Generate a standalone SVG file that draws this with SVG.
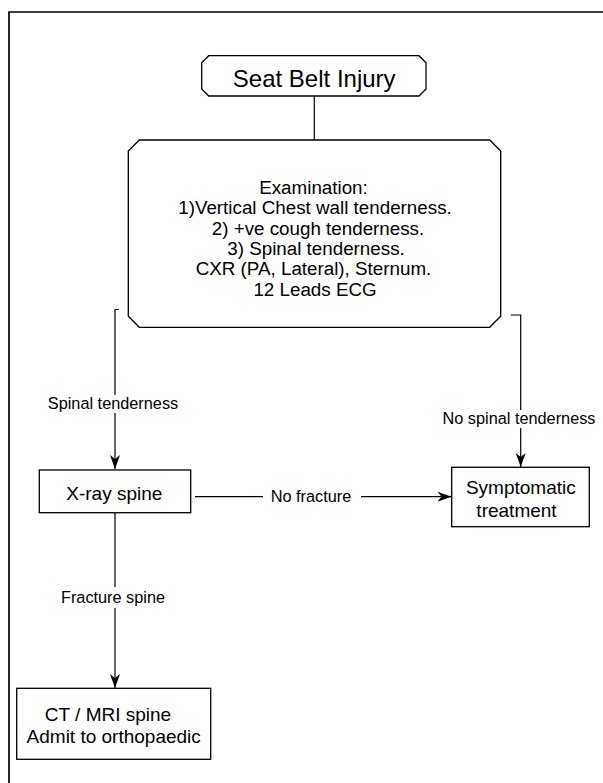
<svg xmlns="http://www.w3.org/2000/svg" width="603" height="783" viewBox="0 0 603 783">
<defs>
<style>
.box{fill:#fff;stroke:#000;stroke-width:1.3}
.ln{fill:none;stroke:#000;stroke-width:1.2}
.t{font-family:"Liberation Sans",Arial,Helvetica,sans-serif;fill:#000;text-anchor:middle}
.title{font-size:24px}
.ex{font-size:18.8px}
.bx{font-size:19px}
.lb{font-size:16.3px}
</style>
<marker id="arr" viewBox="0 0 14 10" refX="14" refY="5" markerWidth="14" markerHeight="10" markerUnits="userSpaceOnUse" orient="auto">
<path d="M0,0 L14,5 L0,10 L4,5 Z" fill="#000"/>
</marker>
</defs>
<rect width="603" height="783" fill="#fff"/>
<path d="M9,783 V12 H603" fill="none" stroke="#000" stroke-width="1.7"/>
<g id="connectors">
<path class="ln" d="M314.3,96 V140"/>
<path class="ln" d="M119,309.5 H115 V395"/>
<path class="ln" d="M115,413 V469" marker-end="url(#arr)"/>
<path class="ln" d="M510.7,315 H520.7 V410"/>
<path class="ln" d="M520.7,428 V467" marker-end="url(#arr)"/>
<path class="ln" d="M195,496.7 H263"/>
<path class="ln" d="M361,496.7 H451.5" marker-end="url(#arr)"/>
<path class="ln" d="M115,512.7 V587"/>
<path class="ln" d="M115,608 V688" marker-end="url(#arr)"/>
<text class="t lb" x="113" y="409">Spinal tenderness</text>
<text class="t lb" x="519" y="424">No spinal tenderness</text>
<text class="t lb" x="311" y="502">No fracture</text>
<text class="t lb" x="113" y="603">Fracture spine</text>
</g>
<g id="seatbelt">
<path class="box" d="M208.7,55.7 H419 L426,62.7 V89 L419,96 H208.7 L201.7,89 V62.7 Z"/>
<text class="t title" x="314.2" y="86.7">Seat Belt Injury</text>
</g>
<g id="examination">
<path class="box" d="M139.3,140 H489.7 L500.7,151 V316.3 L489.7,327.3 H139.3 L128.3,316.3 V151 Z"/>
<text class="t ex" x="313.5" y="194">Examination:</text>
<text class="t ex" x="315" y="214.3">1)Vertical Chest wall tenderness.</text>
<text class="t ex" x="318" y="234.7">2) +ve cough tenderness.</text>
<text class="t ex" x="316" y="255">3) Spinal tenderness.</text>
<text class="t ex" x="313.5" y="275.3">CXR (PA, Lateral), Sternum.</text>
<text class="t ex" x="315" y="295.7">12 Leads ECG</text>
</g>
<g id="xray">
<rect class="box" x="39.3" y="470" width="151.4" height="42.7"/>
<text class="t bx" x="114.3" y="500">X-ray spine</text>
</g>
<g id="symptomatic">
<rect class="box" x="451.7" y="467.3" width="137.6" height="59.4"/>
<text class="t bx" x="520.8" y="494.3">Symptomatic</text>
<text class="t bx" x="516.5" y="516.7">treatment</text>
</g>
<g id="ct">
<rect class="box" x="16.7" y="688.3" width="194" height="71"/>
<text class="t bx" x="108" y="721">CT / MRI spine</text>
<text class="t bx" x="113.7" y="743">Admit to orthopaedic</text>
</g>
</svg>
